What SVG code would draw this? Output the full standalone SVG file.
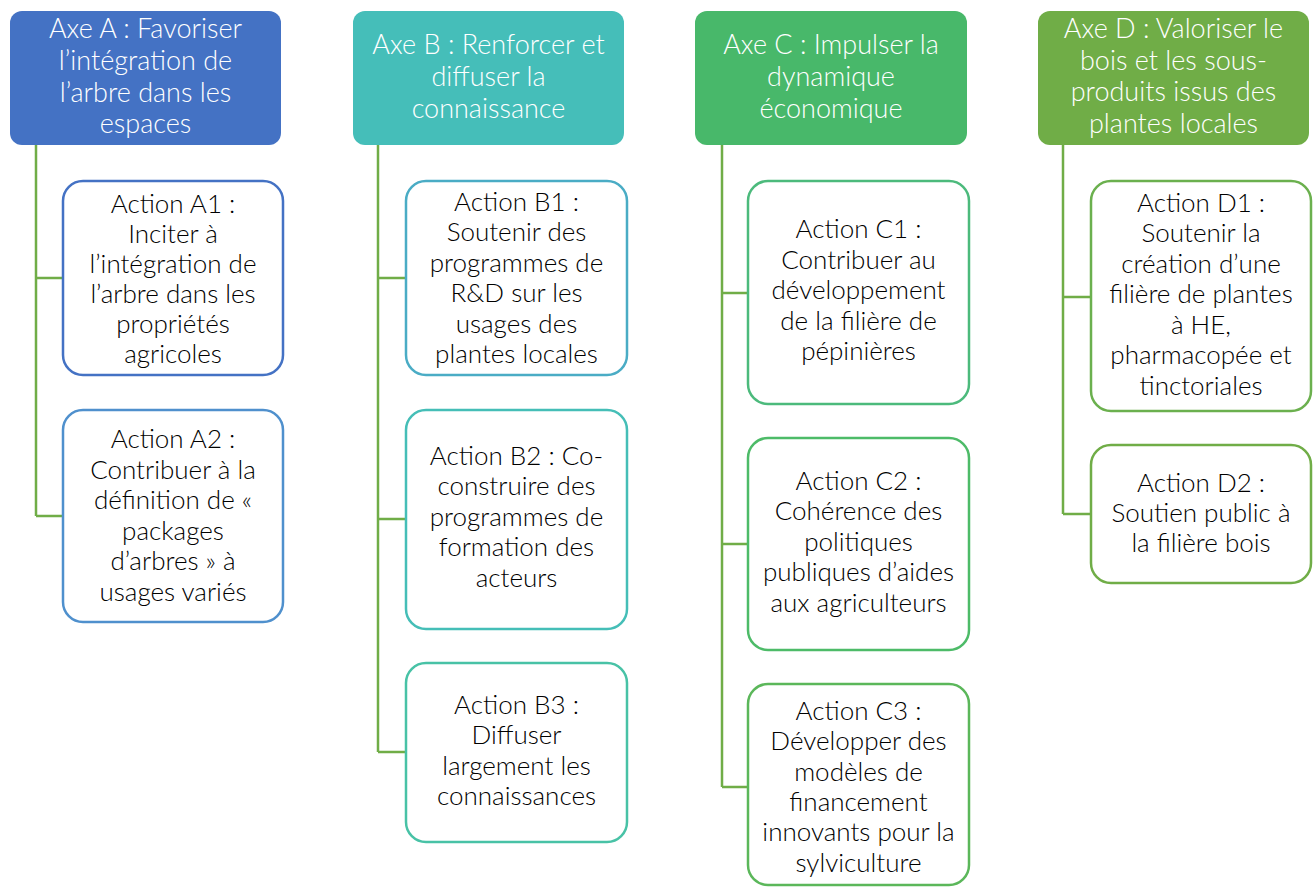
<svg xmlns="http://www.w3.org/2000/svg" width="1316" height="887" viewBox="0 0 1316 887">
<style>
.hdr{stroke:none}
.ht{font-family:Lato,"Liberation Sans",sans-serif;font-weight:300;font-size:27px;fill:#fff;text-anchor:middle}
.box{fill:#fff;stroke-width:2.5}
.at{font-family:Lato,"Liberation Sans",sans-serif;font-weight:300;font-size:26px;fill:#000;text-anchor:middle}
.con{fill:none;stroke:#70AD47;stroke-width:2.5}
</style>
<rect width="1316" height="887" fill="#fff"/>
<g id="connectors">
<path class="con" d="M36,145V516M36,278H63M36,516H63"/>
<path class="con" d="M378,145V752M378,278H406M378,519H406M378,752H406"/>
<path class="con" d="M722,145V787M722,293H748M722,544H748M722,787H748"/>
<path class="con" d="M1063,145V514M1063,297H1091M1063,514H1091"/>
</g>
<g id="axeA">
<rect class="hdr" x="10" y="11" width="271" height="134" rx="12" fill="#4472C4"/>
<text class="ht" x="145.5"><tspan x="145.5" y="38">Axe A : Favoriser</tspan><tspan x="145.5" y="70">l’intégration de</tspan><tspan x="145.5" y="101.5">l’arbre dans les</tspan><tspan x="145.5" y="133">espaces</tspan></text>
</g>
<g id="axeB">
<rect class="hdr" x="353" y="11" width="271" height="134" rx="12" fill="#45BEB9"/>
<text class="ht"><tspan x="488.5" y="53.5">Axe B : Renforcer et</tspan><tspan x="488.5" y="86">diffuser la</tspan><tspan x="488.5" y="118">connaissance</tspan></text>
</g>
<g id="axeC">
<rect class="hdr" x="695" y="11" width="272" height="134" rx="12" fill="#48B86A"/>
<text class="ht"><tspan x="831" y="53.5">Axe C : Impulser la</tspan><tspan x="831" y="86">dynamique</tspan><tspan x="831" y="118">économique</tspan></text>
</g>
<g id="axeD">
<rect class="hdr" x="1038" y="11" width="271" height="134" rx="12" fill="#70AD47"/>
<text class="ht"><tspan x="1173.5" y="37.5">Axe D : Valoriser le</tspan><tspan x="1173.5" y="69.5">bois et les sous-</tspan><tspan x="1173.5" y="101">produits issus des</tspan><tspan x="1173.5" y="133">plantes locales</tspan></text>
</g>
<g id="actionA1">
<rect class="box" x="63" y="181" width="220" height="194" rx="20" stroke="#4472C4"/>
<text class="at"><tspan x="173" y="212.5">Action A1 :</tspan><tspan x="173" y="243">Inciter à</tspan><tspan x="173" y="273">l’intégration de</tspan><tspan x="173" y="303">l’arbre dans les</tspan><tspan x="173" y="333">propriétés</tspan><tspan x="173" y="363">agricoles</tspan></text>
</g>
<g id="actionA2">
<rect class="box" x="63" y="410" width="220" height="212" rx="20" stroke="#4F90CD"/>
<text class="at"><tspan x="173" y="448">Action A2 :</tspan><tspan x="173" y="478.6">Contribuer à la</tspan><tspan x="173" y="509.2">définition de «</tspan><tspan x="173" y="539.8">packages</tspan><tspan x="173" y="570.4">d’arbres » à</tspan><tspan x="173" y="601">usages variés</tspan></text>
</g>
<g id="actionB1">
<rect class="box" x="406" y="181" width="221" height="194" rx="20" stroke="#4AACC5"/>
<text class="at"><tspan x="516.5" y="211">Action B1 :</tspan><tspan x="516.5" y="241.4">Soutenir des</tspan><tspan x="516.5" y="271.8">programmes de</tspan><tspan x="516.5" y="302.2">R&amp;D sur les</tspan><tspan x="516.5" y="332.6">usages des</tspan><tspan x="516.5" y="363">plantes locales</tspan></text>
</g>
<g id="actionB2">
<rect class="box" x="406" y="410" width="221" height="219" rx="20" stroke="#45BEB7"/>
<text class="at"><tspan x="516.5" y="465">Action B2 : Co-</tspan><tspan x="516.5" y="495.4">construire des</tspan><tspan x="516.5" y="525.8">programmes de</tspan><tspan x="516.5" y="556.2">formation des</tspan><tspan x="516.5" y="586.6">acteurs</tspan></text>
</g>
<g id="actionB3">
<rect class="box" x="406" y="663" width="221" height="179" rx="20" stroke="#48C2A6"/>
<text class="at"><tspan x="516.5" y="714">Action B3 :</tspan><tspan x="516.5" y="744.4">Diffuser</tspan><tspan x="516.5" y="774.8">largement les</tspan><tspan x="516.5" y="805.2">connaissances</tspan></text>
</g>
<g id="actionC1">
<rect class="box" x="748" y="181" width="221" height="223" rx="20" stroke="#4CBA7C"/>
<text class="at"><tspan x="858.5" y="238.3">Action C1 :</tspan><tspan x="858.5" y="268.7">Contribuer au</tspan><tspan x="858.5" y="299.1">développement</tspan><tspan x="858.5" y="329.5">de la filière de</tspan><tspan x="858.5" y="360">pépinières</tspan></text>
</g>
<g id="actionC2">
<rect class="box" x="748" y="438" width="221" height="212" rx="20" stroke="#4DBB68"/>
<text class="at"><tspan x="858.5" y="490">Action C2 :</tspan><tspan x="858.5" y="520.4">Cohérence des</tspan><tspan x="858.5" y="550.8">politiques</tspan><tspan x="858.5" y="581.2">publiques d’aides</tspan><tspan x="858.5" y="611.6">aux agriculteurs</tspan></text>
</g>
<g id="actionC3">
<rect class="box" x="748" y="684" width="221" height="201" rx="20" stroke="#5BB75A"/>
<text class="at"><tspan x="858.5" y="720">Action C3 :</tspan><tspan x="858.5" y="750.3">Développer des</tspan><tspan x="858.5" y="780.6">modèles de</tspan><tspan x="858.5" y="810.9">financement</tspan><tspan x="858.5" y="841.2">innovants pour la</tspan><tspan x="858.5" y="871.5">sylviculture</tspan></text>
</g>
<g id="actionD1">
<rect class="box" x="1091" y="181" width="220" height="230" rx="20" stroke="#6BB04E"/>
<text class="at"><tspan x="1201" y="211.7">Action D1 :</tspan><tspan x="1201" y="242.2">Soutenir la</tspan><tspan x="1201" y="272.7">création d’une</tspan><tspan x="1201" y="303.2">filière de plantes</tspan><tspan x="1201" y="333.7">à HE,</tspan><tspan x="1201" y="364.2">pharmacopée et</tspan><tspan x="1201" y="394.7">tinctoriales</tspan></text>
</g>
<g id="actionD2">
<rect class="box" x="1091" y="445" width="220" height="138" rx="20" stroke="#70AD47"/>
<text class="at"><tspan x="1201" y="491.7">Action D2 :</tspan><tspan x="1201" y="521.7">Soutien public à</tspan><tspan x="1201" y="551.7">la filière bois</tspan></text>
</g>
</svg>
